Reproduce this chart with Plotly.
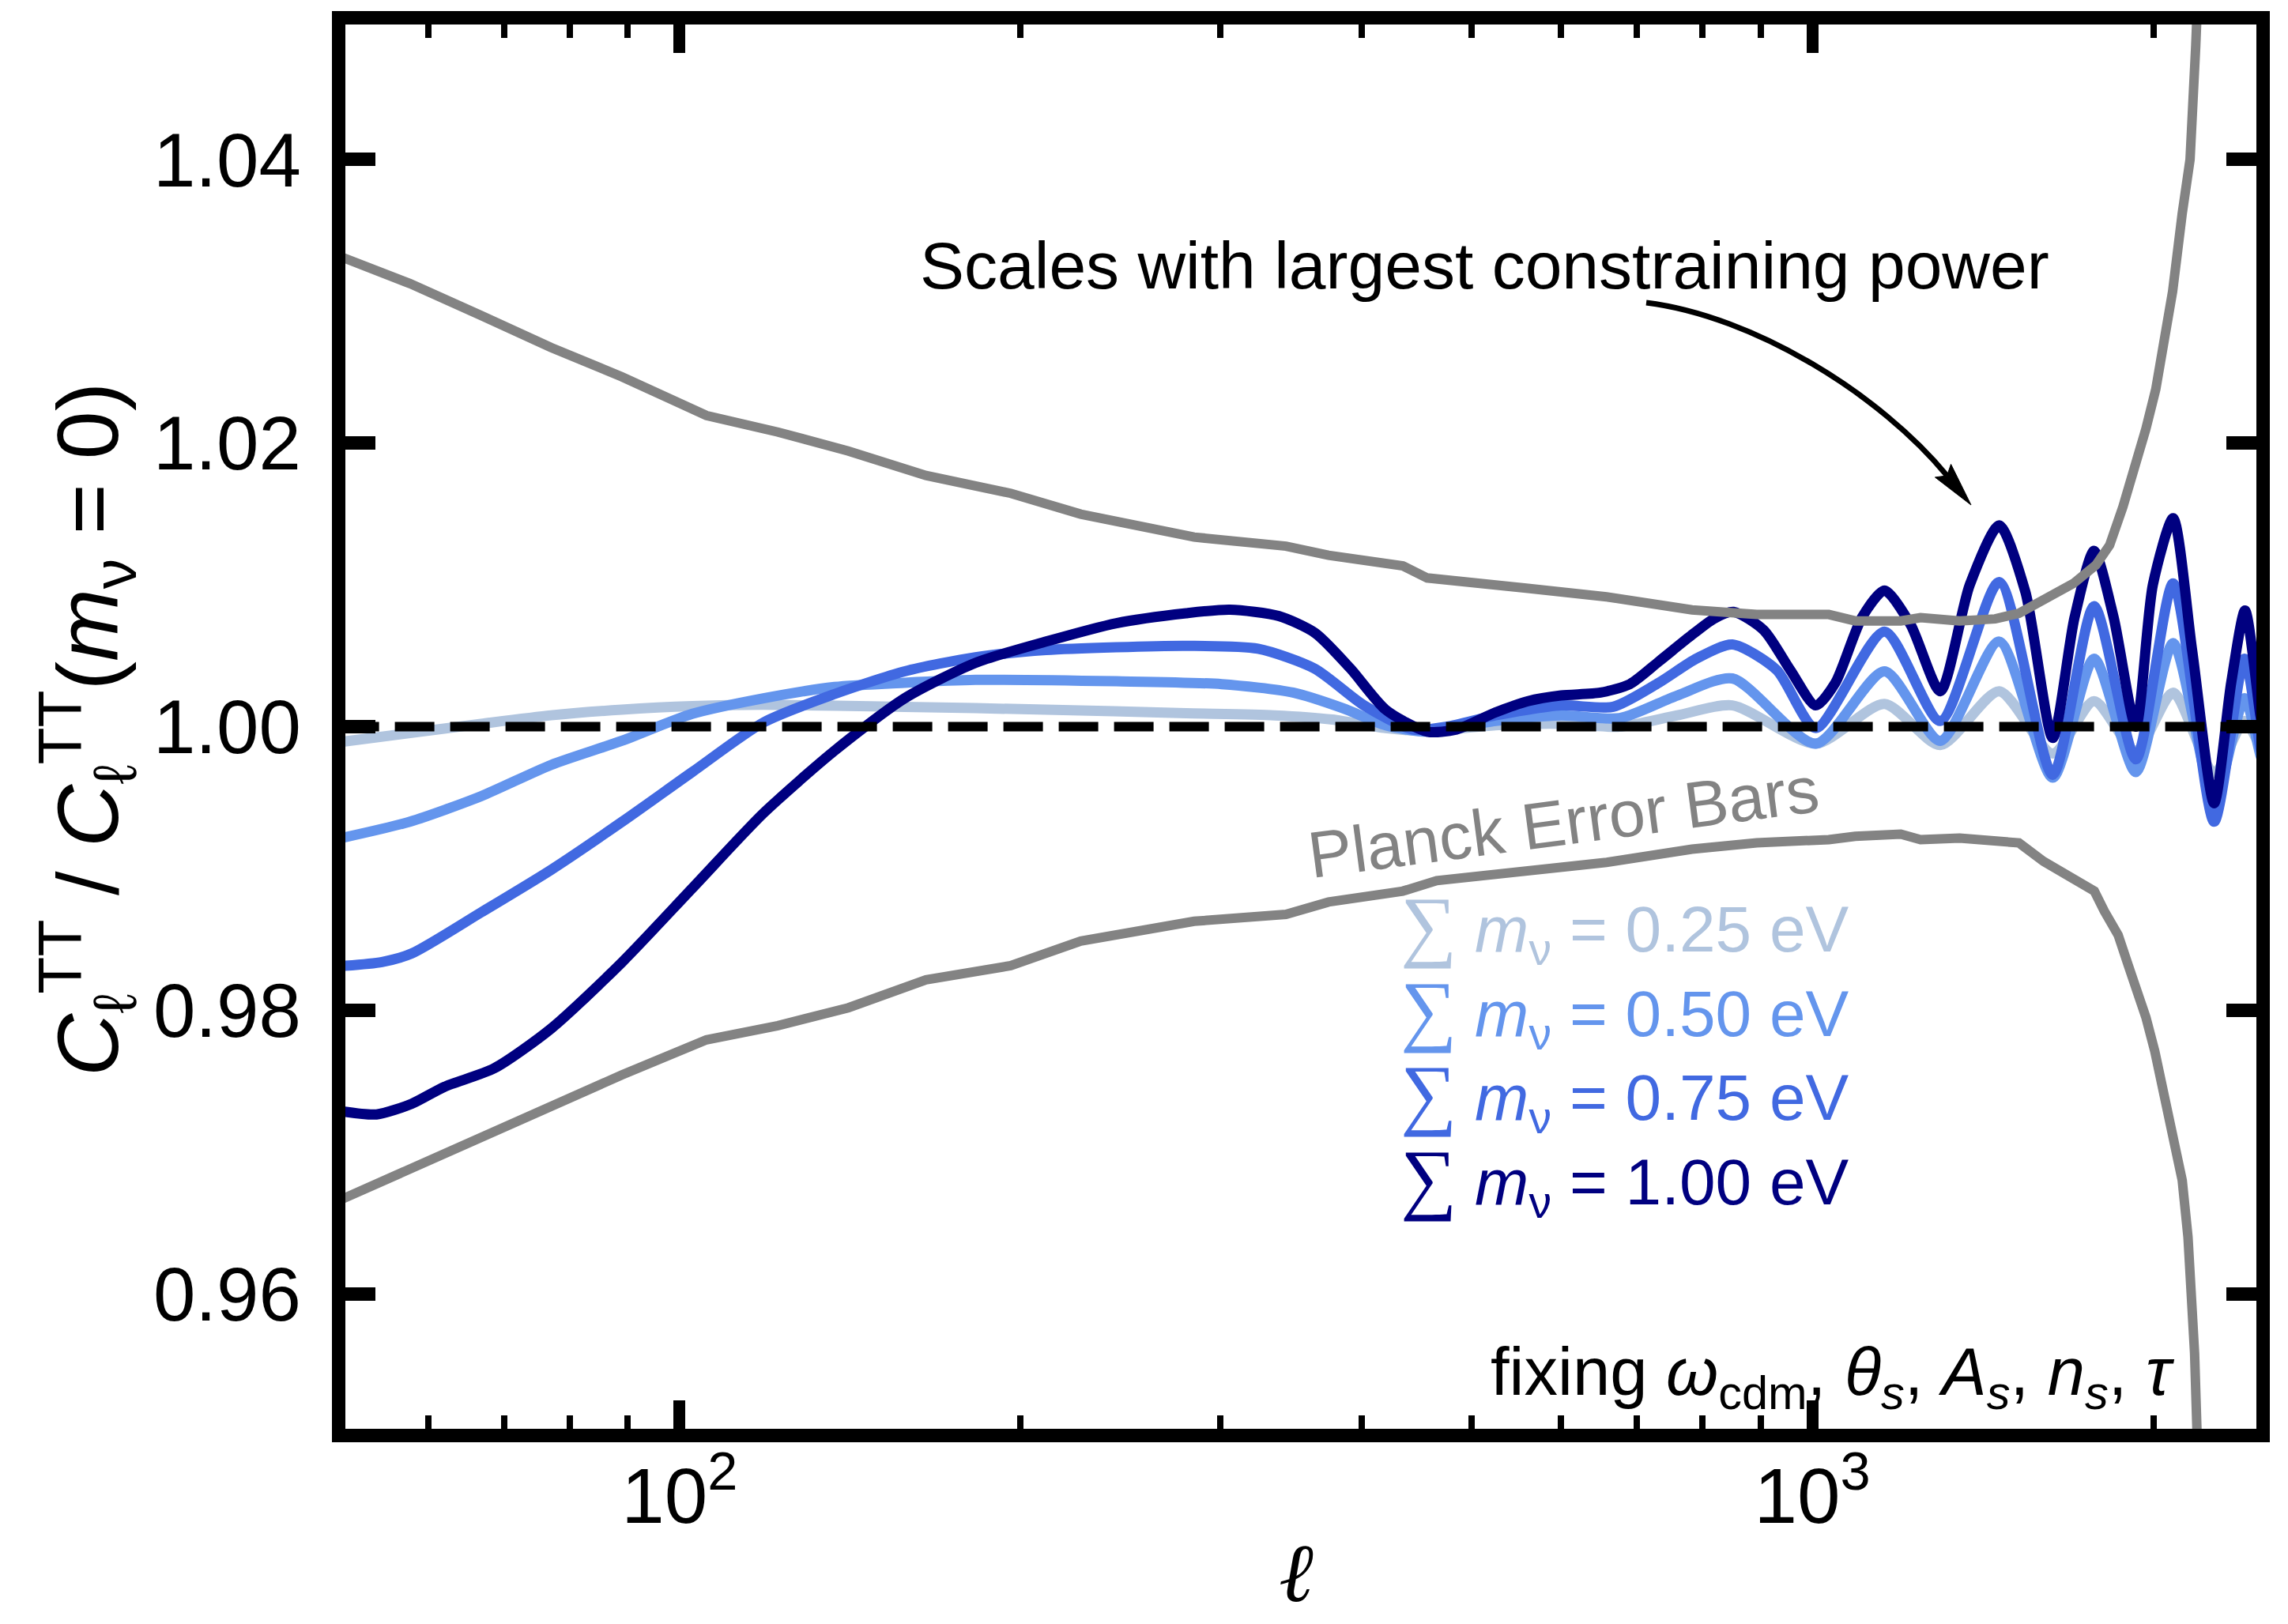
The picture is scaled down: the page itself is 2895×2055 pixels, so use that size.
import math
import plotly.graph_objects as go

# ------------------------------------------------------------------ data
ELL_025 = [50, 57.8, 66.8, 77, 88.9, 102.6, 118.6, 158, 210.6, 280, 335, 377, 420, 457,
           525, 600, 676, 760, 850, 1007, 1158, 1297, 1462, 1630, 1773, 1930, 2082,
           2263, 2407, 2486, 2500]
RATIO_025 = [0.9989, 0.99955, 1.0002, 1.0008, 1.0012, 1.00145, 1.00154, 1.0014, 1.0012,
             1.00095, 1.0008, 1.0005, 0.9999, 0.9997, 1.0001, 1.0002, 1.0000, 1.0008,
             1.0015, 0.9988, 1.0016, 0.9987, 1.0025, 0.9981, 1.0018, 0.9983, 1.0024,
             0.9967, 1.0004, 0.9986, 0.9984]

ELL_050 = [50, 57.8, 66.8, 77, 88.9, 102.6, 118.6, 137, 158, 182.5, 243, 301, 348, 385,
           420, 457, 525, 600, 676, 760, 850, 1007, 1158, 1297, 1462, 1630, 1773, 1930,
           2082, 2263, 2407, 2486, 2500]
RATIO_050 = [0.9921, 0.9933, 0.9951, 0.9973, 0.9990, 1.0009, 1.0020, 1.0028, 1.0031,
             1.0033, 1.0032, 1.0030, 1.0024, 1.0013, 1.0001, 0.99965, 1.0004, 1.0008,
             1.0006, 1.0022, 1.0034, 0.9988, 1.0039, 0.9990, 1.0060, 0.9964, 1.0048,
             0.9968, 1.0059, 0.9948, 1.0020, 0.9980, 0.9975]

ELL_075 = [50, 54.6, 58, 66.8, 77, 89, 102.6, 118.6, 137, 158, 182.5, 210.6, 243, 280,
           324, 363.5, 402, 444, 476, 525, 600, 667, 732, 790, 850, 930, 1007, 1158,
           1297, 1462, 1630, 1773, 1930, 2082, 2263, 2407, 2486, 2500]
RATIO_075 = [0.9831, 0.9834, 0.9840, 0.9869, 0.9899, 0.9933, 0.9968, 1.0003, 1.0023,
             1.0039, 1.0049, 1.0054, 1.0056, 1.0057, 1.0055, 1.0041, 1.0015, 0.9998,
             1.0000, 1.0008, 1.0015, 1.0014, 1.0031, 1.0048, 1.0058, 1.0040, 0.9999,
             1.0067, 1.0004, 1.0102, 0.9966, 1.0085, 0.9977, 1.0101, 0.9933, 1.0048,
             0.9985, 0.9978]

ELL_100 = [50, 54, 58, 62, 68.6, 77, 89, 102.6, 118.6, 137, 158, 182.5, 210.6, 243, 280,
           306, 338, 364, 391, 420, 457, 485, 525, 561, 600, 650, 690, 732, 778, 818,
           852, 906, 956, 1007, 1048, 1106, 1158, 1221, 1297, 1377, 1462, 1542, 1630,
           1704, 1773, 1845, 1930, 1998, 2082, 2164, 2263, 2343, 2410, 2486, 2500]
RATIO_100 = [0.9729, 0.97265, 0.9734, 0.9746, 0.9759, 0.9787, 0.9834, 0.9886, 0.9939,
             0.9983, 1.0020, 1.0045, 1.0060, 1.0073, 1.0080, 1.00825, 1.0078, 1.0066,
             1.0041, 1.0012, 0.99965, 0.9998, 1.0010, 1.0018, 1.0022, 1.0024, 1.0030,
             1.0046, 1.0063, 1.0076, 1.0081, 1.0068, 1.0040, 1.0015, 1.0031, 1.0077,
             1.0096, 1.0072, 1.0025, 1.0100, 1.0142, 1.0095, 0.9992, 1.0077, 1.0124,
             1.0077, 1.0000, 1.0100, 1.0147, 1.0054, 0.9946, 1.0031, 1.0082, 1.0008,
             0.9999]

PLANCK_UP_ELL = [50, 57.8, 66.8, 77, 88.9, 105.6, 122.1, 140.9, 165, 196, 226, 284.6, 343,
                 374, 435, 457, 561, 658, 783, 893, 1034, 1091, 1197, 1246, 1349, 1450,
                 1522, 1600, 1700, 1780, 1830, 1880, 1920, 1970, 2010, 2080, 2121, 2155,
                 2180, 2200]
PLANCK_UP = [1.0332, 1.03125, 1.0290, 1.02674, 1.02468, 1.02195, 1.02078, 1.01944, 1.01772,
             1.01646, 1.01499, 1.01337, 1.01273, 1.01209, 1.01134, 1.01049, 1.00975,
             1.00916, 1.00824, 1.00791, 1.00791, 1.00746, 1.00746, 1.00769, 1.00746,
             1.0076, 1.0080, 1.0090, 1.0101, 1.0114, 1.0128, 1.0155, 1.0178, 1.0210,
             1.0238, 1.0307, 1.0362, 1.0400, 1.0480, 1.0560]

PLANCK_LO_ELL = [50, 57.8, 66.8, 77, 88.9, 105.6, 122.1, 140.9, 165, 196, 226, 284.6, 343,
                 374, 435, 466, 561, 658, 783, 893, 1034, 1091, 1197, 1246, 1349, 1462,
                 1522, 1600, 1700, 1774, 1810, 1862, 1900, 1934, 1970, 2006, 2040, 2080,
                 2121, 2146, 2175, 2192]
PLANCK_LO = [0.96657, 0.9688, 0.97109, 0.97329, 0.97543, 0.97791, 0.97891, 0.98017,
             0.98214, 0.98314, 0.98488, 0.98627, 0.98676, 0.98763, 0.9884, 0.98914,
             0.98975, 0.99043, 0.99136, 0.99181, 0.99203, 0.99227, 0.99242, 0.99203,
             0.99214, 0.9920, 0.9918, 0.9905, 0.9892, 0.9884, 0.9870, 0.9853, 0.9832,
             0.9816, 0.9795, 0.9771, 0.9745, 0.9709, 0.9680, 0.9640, 0.9558, 0.9470]

REF_ELL = [40, 3000]
REF_RATIO = [1.0, 1.0]

MASS_LABELS = ["0.25", "0.50", "0.75", "1.00"]
X_RANGE = [50, 2500]
Y_RANGE = [0.95, 1.05]
X_TICKS = [100, 1000]
X_TICK_TEXT = ["10<sup>2</sup>", "10<sup>3</sup>"]
X_MINOR_TICKS = [60, 70, 80, 90, 200, 300, 400, 500, 600, 700, 800, 900, 2000]
Y_TICKS = [0.96, 0.98, 1.00, 1.02, 1.04]
Y_TICK_TEXT = ["0.96", "0.98", "1.00", "1.02", "1.04"]

# ------------------------------------------------------------------ style
COLORS = ["#B0C4DE", "#6495ED", "#4169E1", "#000080"]
GRAY = "#838383"
FONT = "Liberation Sans, Arial, Helvetica, sans-serif"
W, H = 2895, 2055
L, R, T, B = 437, 40, 31, 247
PW, PH = W - L - R, H - T - B
FRAME = 17


def paper(x, y):
    return (x - L) / PW, (H - B - y) / PH


# axis ranges: frame lines are centred on the nominal range limits
lx0, lx1 = math.log10(X_RANGE[0]), math.log10(X_RANGE[1])
dx = (lx1 - lx0) * (FRAME / 2) / (PW + FRAME)
dy = (Y_RANGE[1] - Y_RANGE[0]) * (FRAME / 2) / (PH + FRAME)

fig = go.Figure()

for ell, ratio, col in zip([ELL_025, ELL_050, ELL_075, ELL_100],
                           [RATIO_025, RATIO_050, RATIO_075, RATIO_100], COLORS):
    fig.add_trace(go.Scatter(x=ell, y=ratio, mode="lines",
                             line=dict(color=col, width=13, shape="spline", smoothing=0.7),
                             hoverinfo="skip"))

fig.add_trace(go.Scatter(x=REF_ELL, y=REF_RATIO, mode="lines",
                         line=dict(color="black", width=12, dash="50px,20px"),
                         hoverinfo="skip"))

for ell, val in [(PLANCK_UP_ELL, PLANCK_UP), (PLANCK_LO_ELL, PLANCK_LO)]:
    fig.add_trace(go.Scatter(x=ell, y=val, mode="lines",
                             line=dict(color=GRAY, width=12), hoverinfo="skip"))

fig.update_layout(
    width=W, height=H,
    margin=dict(l=L, r=R, t=T, b=B, pad=0),
    paper_bgcolor="white", plot_bgcolor="white",
    showlegend=False,
    font=dict(family=FONT, color="black"),
)

fig.update_xaxes(
    type="log", range=[lx0 + dx, lx1 - dx],
    showline=True, linewidth=FRAME, linecolor="black", mirror="ticks",
    ticks="inside", ticklen=36, tickwidth=15, tickcolor="black",
    tickvals=X_TICKS, ticktext=X_TICK_TEXT,
    tickfont=dict(size=98, family=FONT, color="black"),
    ticklabelstandoff=-16,
    minor=dict(ticks="inside", ticklen=17, tickwidth=8, tickcolor="black",
               tickvals=X_MINOR_TICKS, showgrid=False),
    showgrid=False, zeroline=False,
)
fig.update_yaxes(
    range=[Y_RANGE[0] + dy, Y_RANGE[1] - dy],
    showline=True, linewidth=FRAME, linecolor="black", mirror="ticks",
    ticks="inside", ticklen=38, tickwidth=17, tickcolor="black",
    tickvals=Y_TICKS, ticktext=Y_TICK_TEXT,
    tickfont=dict(size=96, family=FONT, color="black"),
    ticklabelstandoff=20,
    showgrid=False, zeroline=False,
)

ann = []
# y axis title
px_, py_ = paper(110, 923)
ann.append(dict(x=px_, y=py_, xref="paper", yref="paper", showarrow=False,
                textangle=-90, xanchor="center", yanchor="middle",
                text="<i>C</i><sub>ℓ</sub><sup>TT</sup> / <i>C</i><sub>ℓ</sub><sup>TT</sup>(<i>m</i><sub>ν</sub> = 0)",
                font=dict(size=110, family=FONT, color="black")))
# x axis title
px_, py_ = paper(1640, 1990)
ann.append(dict(x=px_, y=py_, xref="paper", yref="paper", showarrow=False,
                xanchor="center", yanchor="middle", text="<i>ℓ</i>",
                font=dict(size=105, family="DejaVu Serif", color="black")))
# mass labels
for i, (lab, col) in enumerate(zip(MASS_LABELS, COLORS)):
    px_, py_ = paper(1770, 1172 + 106.5 * i)
    ann.append(dict(x=px_, y=py_, xref="paper", yref="paper", showarrow=False,
                    xanchor="left", yanchor="middle",
                    text=("<span style=\"font-family:DejaVu Sans;font-weight:200;font-size:100px\">∑</span> "
                          "<i>m</i><sub>ν</sub> = " + lab + " eV"),
                    font=dict(size=82, family=FONT, color=col)))
# Planck label
px_, py_ = paper(1978, 1040)
ann.append(dict(x=px_, y=py_, xref="paper", yref="paper", showarrow=False,
                textangle=-7.5, xanchor="center", yanchor="middle",
                text="Planck Error Bars", font=dict(size=83, family=FONT, color=GRAY)))
# top annotation
px_, py_ = paper(1162, 336)
ann.append(dict(x=px_, y=py_, xref="paper", yref="paper", showarrow=False,
                xanchor="left", yanchor="middle",
                text="Scales with largest constraining power",
                font=dict(size=84, family=FONT, color="black")))
# fixing text
px_, py_ = paper(2754, 1742)
ann.append(dict(x=px_, y=py_, xref="paper", yref="paper", showarrow=False,
                xanchor="right", yanchor="middle",
                text=("fixing <i>ω</i><sub>cdm</sub>, <i>θ</i><sub><i>s</i></sub>, "
                      "<i>A</i><sub><i>s</i></sub>, <i>n</i><sub><i>s</i></sub>, <i>τ</i>"),
                font=dict(size=85, family=FONT, color="black")))
fig.update_layout(annotations=ann)

# curved arrow (paper coordinates)
P0, C1, C2 = (2083, 383), (2220, 400), (2380, 500)
TIP = (2494, 639)
tx, ty = TIP[0] - C2[0], TIP[1] - C2[1]
n = math.hypot(tx, ty)
ux, uy = tx / n, ty / n
head_len, head_half = 56, 13
base = (TIP[0] - head_len * ux, TIP[1] - head_len * uy)
c1 = (base[0] - head_half * uy, base[1] + head_half * ux)
c2 = (base[0] + head_half * uy, base[1] - head_half * ux)
notch = (base[0] + 8 * ux, base[1] + 8 * uy)


def pp(pt):
    a, b = paper(*pt)
    return f"{a:.5f},{b:.5f}"


fig.add_shape(type="path", xref="paper", yref="paper",
              path=f"M {pp(P0)} C {pp(C1)} {pp(C2)} {pp(notch)}",
              line=dict(color="black", width=7))
fig.add_shape(type="path", xref="paper", yref="paper",
              path=f"M {pp(TIP)} L {pp(c1)} L {pp(notch)} L {pp(c2)} Z",
              line=dict(color="black", width=1), fillcolor="black")

fig.write_html("out.html")
